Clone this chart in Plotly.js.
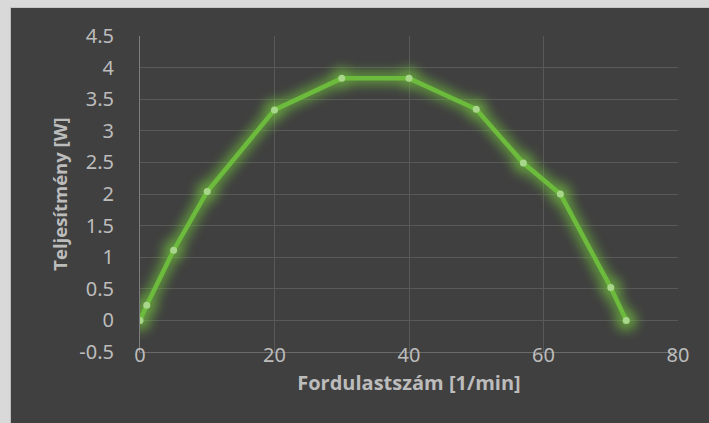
<!DOCTYPE html>
<html>
<head>
<meta charset="utf-8">
<script src="https://cdn.plot.ly/plotly-3.0.1.min.js"></script>
<style>
  html, body { margin: 0; padding: 0; width: 709px; height: 423px; background: #d9d9d9; overflow: hidden; }
  #chart { position: absolute; left: 10px; top: 7px; width: 699px; height: 416px; border-left: 1px solid #bcbcbc; border-top: 1px solid #c4c4c4; box-sizing: border-box; }
</style>
</head>
<body>
<!-- soft green halo used under the power curve -->
<svg width="0" height="0" style="position:absolute">
  <defs>
    <filter id="glow" x="-20%" y="-20%" width="140%" height="140%">
      <feGaussianBlur stdDeviation="6"/>
    </filter>
  </defs>
</svg>
<div id="chart"></div>
<script>
// rotational speed [1/min] and measured power [W]
const speed = [0, 1, 5, 10, 20, 30, 40, 50, 57, 62.5, 70, 72.3];
const power = [0, 0.24, 1.11, 2.04, 3.33, 3.83, 3.83, 3.34, 2.49, 2.0, 0.52, 0];

const xTickVals = [0, 20, 40, 60, 80];
const xTickText = ['0', '20', '40', '60', '80'];
const yTickVals = [-0.5, 0, 0.5, 1, 1.5, 2, 2.5, 3, 3.5, 4, 4.5];
const yTickText = ['-0.5', '0', '0.5', '1', '1.5', '2', '2.5', '3', '3.5', '4', '4.5'];

const textColor = '#bcbcbc';
const gridColor = '#595959';

const halo = {
  x: speed, y: power, type: 'scatter', mode: 'lines+markers',
  line: { color: '#6fc23a', width: 12 },
  marker: { color: '#74c83c', size: 21 },
  opacity: 0.7,
  hoverinfo: 'skip', showlegend: false
};

const curve = {
  x: speed, y: power, type: 'scatter', mode: 'lines+markers',
  line: { color: '#6cbb3d', width: 4.5 },
  marker: { color: '#a8d68a', size: 7, line: { width: 0 } },
  showlegend: false
};

const layout = {
  width: 699, height: 416,
  margin: { l: 129, r: 32, t: 28, b: 72 },
  paper_bgcolor: '#404040',
  plot_bgcolor: '#404040',
  font: { family: 'Noto Sans, DejaVu Sans, sans-serif', size: 20, color: textColor },
  xaxis: {
    range: [0, 80],
    tickvals: xTickVals, ticktext: xTickText,
    showgrid: true, gridcolor: gridColor, gridwidth: 1,
    zeroline: false,
    showline: true, linecolor: '#6a6a6a', linewidth: 1, mirror: false,
    ticks: '', ticklabelstandoff: -15,
    tickfont: { family: 'Noto Sans, sans-serif', size: 20, color: textColor },
    title: { text: 'Fordulastszám [1/min]', standoff: 8,
             font: { family: 'Open Sans, sans-serif', size: 20, color: textColor, weight: 'bold' } }
  },
  yaxis: {
    range: [-0.5, 4.5],
    tickvals: yTickVals, ticktext: yTickText,
    showgrid: true, gridcolor: gridColor, gridwidth: 1,
    zeroline: false,
    showline: true, linecolor: '#7c7c7c', linewidth: 1,
    ticks: '', ticklabelstandoff: 21,
    tickfont: { family: 'Noto Sans, sans-serif', size: 20, color: textColor },
    title: { text: 'Teljesítmény [W]', standoff: 6,
             font: { family: 'Open Sans, sans-serif', size: 18.5, color: textColor, weight: 'bold' } }
  }
};

Plotly.newPlot('chart', [halo, curve], layout, { displayModeBar: false, staticPlot: true }).then(function (gd) {
  const traces = gd.querySelectorAll('.scatterlayer .trace');
  if (traces.length) traces[0].setAttribute('filter', 'url(#glow)');
});
</script>
</body>
</html>
